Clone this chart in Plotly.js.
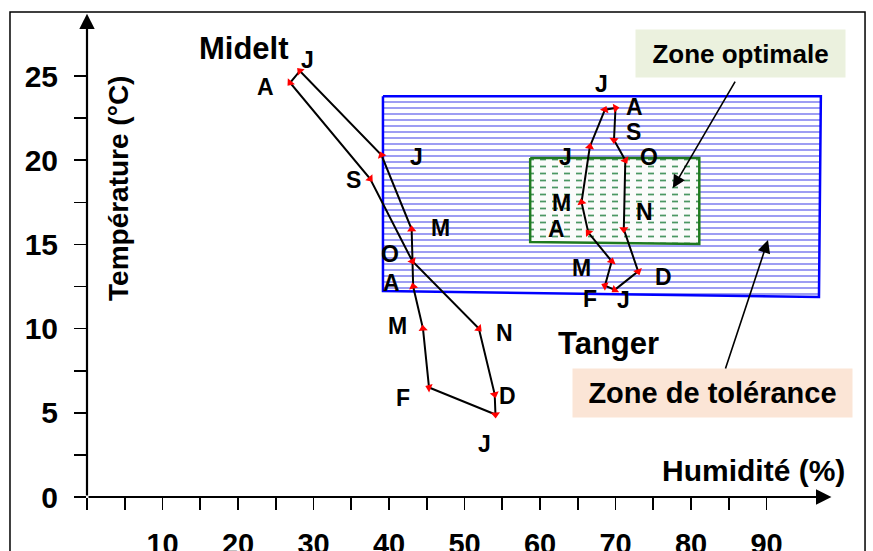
<!DOCTYPE html>
<html>
<head>
<meta charset="utf-8">
<script src="https://cdn.plot.ly/plotly-3.0.1.min.js"></script>
<style>
  html, body { margin: 0; padding: 0; background: #ffffff; }
  #chart { width: 873px; height: 551px; }
</style>
</head>
<body>
<div id="chart"></div>
<script>
// ---- data ----
const monthLetters = ['J', 'F', 'M', 'A', 'M', 'J', 'J', 'A', 'S', 'O', 'N', 'D'];

const mideltHumidity    = [54.1, 45.3, 44.5, 43.2, 43.0, 39.0, 28.2, 26.9, 37.5, 43.1, 51.9, 54.0];
const mideltTemperature = [4.9, 6.5, 10.0, 12.5, 15.9, 20.3, 25.3, 24.6, 18.9, 14.0, 10.0, 6.1];

const tangerHumidity    = [69.9, 68.6, 69.5, 66.4, 65.5, 66.6, 68.6, 70.0, 69.8, 71.3, 71.1, 73.0];
const tangerTemperature = [12.3, 12.55, 14.0, 15.7, 17.5, 20.8, 23.0, 23.1, 21.2, 20.0, 15.9, 13.4];

const toleranceZoneHumidity    = [39.2, 97.2, 96.95, 39.2];
const toleranceZoneTemperature = [23.8, 23.8, 11.88, 12.23];

const optimalZoneHumidity    = [58.7, 81.1, 81.1, 58.7];
const optimalZoneTemperature = [20.13, 20.13, 15.02, 15.14];

const xTickValues = [0, 5, 10, 15, 20, 25, 30, 35, 40, 45, 50, 55, 60, 65, 70, 75, 80, 85, 90];
const xTickLabels = ['', '', '10', '', '20', '', '30', '', '40', '', '50', '', '60', '', '70', '', '80', '', '90'];
const yTickValues = [0, 2.5, 5, 7.5, 10, 12.5, 15, 17.5, 20, 22.5, 25];
const yTickLabels = ['0', '', '5', '', '10', '', '15', '', '20', '', '25'];

// label offsets in pixels (dx right, dy down) relative to each month's point
const mideltLabelOffsets = [[-11,30],[-26,10],[-25,-3],[-22,-4],[29,-1],[35,2],[8,-11],[-25,4],[-17,1],[-22,-7],[26,4],[13,2]];
const tangerLabelOffsets = [[9,10],[-15,13],[-30,7],[-32,-4],[-20,1],[-24,10],[-3,-26],[19,-1],[20,-8],[24,-3],[21,-17],[25,6]];

// ---- helpers ----
const closeLoop = a => a.concat([a[0]]);
const FONT = 'Arial, "Liberation Sans", sans-serif';

const traces = [
  {
    x: closeLoop(toleranceZoneHumidity), y: closeLoop(toleranceZoneTemperature),
    type: 'scatter', mode: 'lines', fill: 'toself', fillcolor: '#ffffff',
    fillpattern: { shape: '-', fgcolor: '#9d9df3', bgcolor: '#ffffff', size: 6, solidity: 0.33 },
    line: { color: '#0000ff', width: 2.5 }, hoverinfo: 'skip', showlegend: false
  },
  {
    x: closeLoop(optimalZoneHumidity), y: closeLoop(optimalZoneTemperature),
    type: 'scatter', mode: 'lines', fill: 'toself', fillcolor: '#ffffff',
    fillpattern: { shape: '-', fgcolor: '#4b9763', bgcolor: '#fbfbfb', size: 7, solidity: 0.25 },
    line: { color: 'rgba(0,0,0,0)', width: 0 }, hoverinfo: 'skip', showlegend: false
  },
  {
    x: closeLoop(optimalZoneHumidity), y: closeLoop(optimalZoneTemperature),
    type: 'scatter', mode: 'lines', fill: 'toself', fillcolor: 'rgba(0,0,0,0)',
    fillpattern: { shape: '|', fgcolor: '#fbfbfb', bgcolor: 'rgba(0,0,0,0)', size: 12, solidity: 0.5 },
    line: { color: '#1f7a1f', width: 2.5 }, hoverinfo: 'skip', showlegend: false
  },
  {
    x: closeLoop(mideltHumidity), y: closeLoop(mideltTemperature),
    type: 'scatter', mode: 'lines+markers',
    line: { color: '#000000', width: 2 },
    marker: { symbol: 'triangle-up', size: 8, color: '#ff0000', angleref: 'previous' },
    showlegend: false, name: 'Midelt'
  },
  {
    x: closeLoop(tangerHumidity), y: closeLoop(tangerTemperature),
    type: 'scatter', mode: 'lines+markers',
    line: { color: '#000000', width: 2 },
    marker: { symbol: 'triangle-up', size: 8, color: '#ff0000', angleref: 'previous' },
    showlegend: false, name: 'Tanger'
  }
];

const annotations = [];
function monthLabels(hum, temp, offsets) {
  hum.forEach((h, i) => {
    annotations.push({
      x: h, y: temp[i], xref: 'x', yref: 'y', text: monthLetters[i], showarrow: false,
      xshift: offsets[i][0], yshift: -offsets[i][1],
      font: { family: FONT, size: 23, color: '#000000', weight: 'bold' }
    });
  });
}
monthLabels(mideltHumidity, mideltTemperature, mideltLabelOffsets);
monthLabels(tangerHumidity, tangerTemperature, tangerLabelOffsets);

const boldFont = (s) => ({ family: FONT, size: s, color: '#000000', weight: 'bold' });

annotations.push(
  { x: 20.8, y: 26.66, xref: 'x', yref: 'y', text: 'Midelt', showarrow: false, font: boldFont(31) },
  { x: 69.1, y: 9.14, xref: 'x', yref: 'y', text: 'Tanger', showarrow: false, font: boldFont(31) },
  { x: 88.3, y: 1.55, xref: 'x', yref: 'y', text: 'Humidité (%)', showarrow: false, font: boldFont(30) },
  { x: 4.1, y: 18.35, xref: 'x', yref: 'y', text: 'Température (°C)', textangle: -90, showarrow: false, font: boldFont(28) },
  { x: 86.5, y: 26.35, xref: 'x', yref: 'y', text: 'Zone optimale', showarrow: false,
    bgcolor: '#ebf1de', width: 209, height: 47, borderpad: 0, font: boldFont(26) },
  { x: 82.85, y: 6.18, xref: 'x', yref: 'y', text: 'Zone de tolérance', showarrow: false,
    bgcolor: '#fbe5d6', width: 279, height: 48, borderpad: 0, font: boldFont(29) },
  // pointer arrows
  { x: 77.6, y: 18.35, ax: 85.96, ay: 24.76, xref: 'x', yref: 'y', axref: 'x', ayref: 'y',
    text: '', showarrow: true, arrowhead: 2, arrowsize: 1.6, arrowwidth: 1.6, arrowcolor: '#000000' },
  { x: 90.2, y: 15.26, ax: 84.5, ay: 7.54, xref: 'x', yref: 'y', axref: 'x', ayref: 'y',
    text: '', showarrow: true, arrowhead: 2, arrowsize: 1.6, arrowwidth: 1.6, arrowcolor: '#000000' },
  // axis arrows
  { x: 98.6, y: 0, ax: 0, ay: 0, xref: 'x', yref: 'y', axref: 'x', ayref: 'y',
    text: '', showarrow: true, arrowhead: 2, arrowsize: 1.4, arrowwidth: 2.2, arrowcolor: '#000000' },
  { x: 0, y: 28.7, ax: 0, ay: 0, xref: 'x', yref: 'y', axref: 'x', ayref: 'y',
    text: '', showarrow: true, arrowhead: 2, arrowsize: 1.4, arrowwidth: 2.2, arrowcolor: '#000000' }
);

const layout = {
  width: 873, height: 551,
  margin: { l: 87, r: 31, t: 9, b: 54, pad: 0 },
  paper_bgcolor: '#ffffff', plot_bgcolor: '#ffffff',
  showlegend: false,
  xaxis: {
    range: [0, 100], showgrid: false, zeroline: false, showline: false,
    tickmode: 'array', tickvals: xTickValues, ticktext: xTickLabels,
    ticks: 'outside', ticklen: 12, tickwidth: 1.6, tickcolor: '#000000',
    ticklabelstandoff: 9,
    tickfont: boldFont(29), fixedrange: true, automargin: false
  },
  yaxis: {
    range: [0, 28.98], showgrid: false, zeroline: false, showline: false,
    tickmode: 'array', tickvals: yTickValues, ticktext: yTickLabels,
    ticks: 'outside', ticklen: 12, tickwidth: 1.6, tickcolor: '#000000',
    ticklabelstandoff: 10,
    tickfont: boldFont(30), fixedrange: true, automargin: false
  },
  shapes: [
    { type: 'rect', xref: 'paper', yref: 'paper', x0: -0.102, x1: 1.0305, y0: -0.2, y1: 0.9939,
      line: { color: '#000000', width: 1.5 }, fillcolor: 'rgba(0,0,0,0)', layer: 'above' }
  ],
  annotations: annotations
};

Plotly.newPlot('chart', traces, layout, { displayModeBar: false, staticPlot: true });
</script>
</body>
</html>
